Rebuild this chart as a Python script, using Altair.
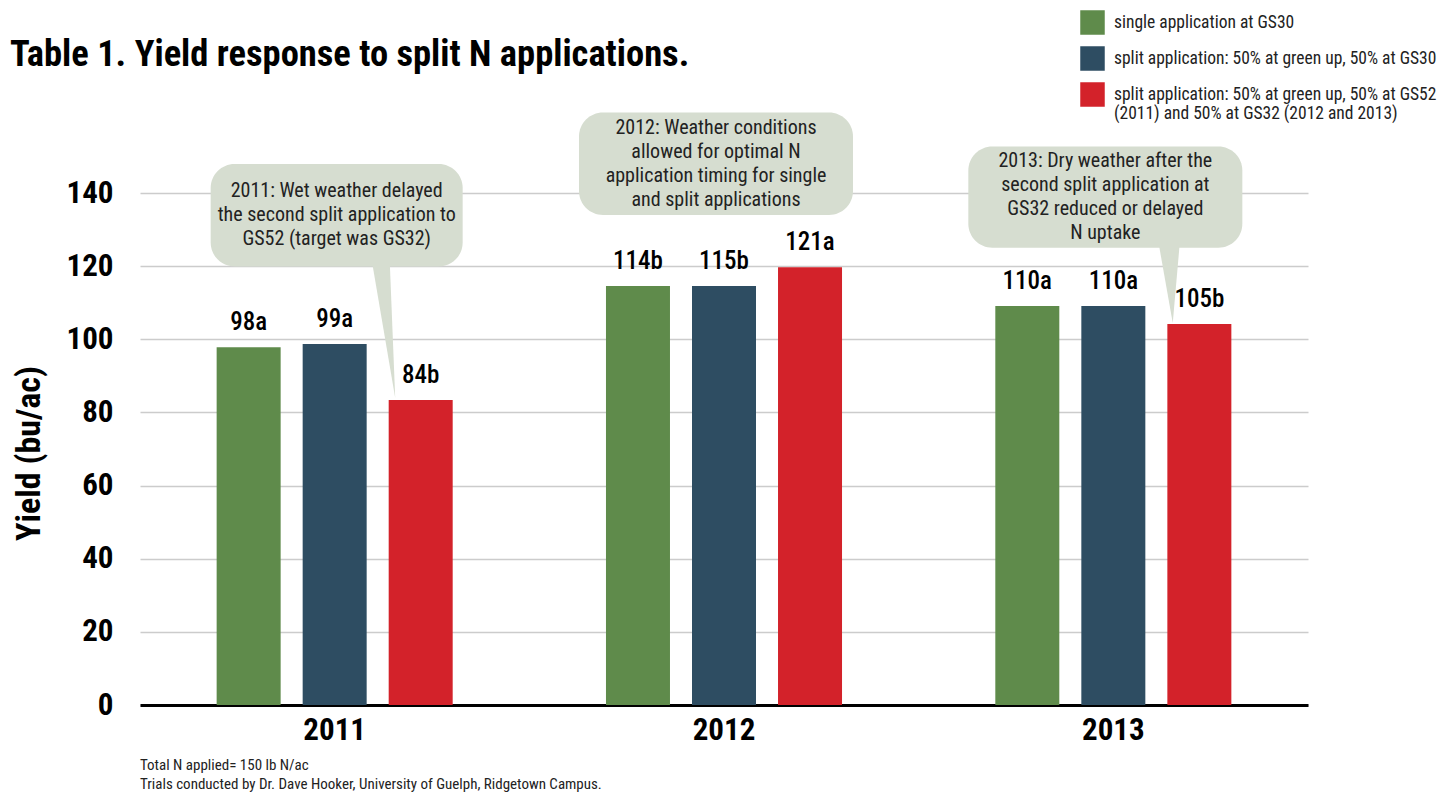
import altair as alt
import pandas as pd

FONT = "Roboto Condensed, Liberation Sans Narrow, DejaVu Sans Condensed, Arial Narrow, sans-serif"

# ---- data ----
years = ["2011", "2012", "2013"]
treatments = [
    "single application at GS30",
    "split application: 50% at green up, 50% at GS30",
    "split application: 50% at green up, 50% at GS52 (2011) and 50% at GS32 (2012 and 2013)",
]
single_gs30 = [97.8, 114.6, 109.1]
split_gs30 = [98.7, 114.6, 109.1]
split_late = [83.4, 119.7, 104.2]
labels_single = ["98a", "114b", "110a"]
labels_split = ["99a", "115b", "110a"]
labels_late = ["84b", "121a", "105b"]
colors = ["#5f8b4b", "#2e4d62", "#d3222a"]
y_ticks = [0, 20, 40, 60, 80, 100, 120, 140]

note_years = ["2011", "2012", "2013"]
note_lines = [
    ["2011: Wet weather delayed", "the second split application to", "GS52 (target was GS32)"],
    ["2012: Weather conditions", "allowed for optimal N", "application timing for single",
     "and split applications"],
    ["2013: Dry weather after the", "second split application at", "GS32 reduced or delayed",
     "N uptake"],
]
note_top = [147.9, 162.0, 152.7]
note_bottom = [119.9, 134.0, 125.0]
note_width = [252, 274, 274]
note_shift = [2, -8, -8]

pointer_years = ["2011", "2013"]
pointer_mid = [102.8, 115.8]
pointer_paths = [
    "M-0.70,-0.986L-0.443,-0.986L-0.364,0.986Z",
    "M-0.59,-0.593L-0.276,-0.593L-0.38,0.593Z",
]

title_text = "Table 1. Yield response to split N applications."
foot1 = "Total N applied= 150 lb N/ac"
foot2 = "Trials conducted by Dr. Dave Hooker, University of Guelph, Ridgetown Campus."

BUBBLE = "#d6ddd0"
LINE_H = 24

rows = []
for vals, labs, t in [(single_gs30, labels_single, treatments[0]),
                      (split_gs30, labels_split, treatments[1]),
                      (split_late, labels_late, treatments[2])]:
    for yr, v, lb in zip(years, vals, labs):
        rows.append({"year": yr, "treatment": t, "yield": v, "label": lb})
df = pd.DataFrame(rows)

xscale = alt.Scale(domain=years, paddingInner=0, paddingOuter=0)
oscale = alt.Scale(domain=treatments, paddingInner=0.256, paddingOuter=0.891)
yscale = alt.Scale(domain=[0, 140], nice=False)

x_axis = alt.Axis(domain=True, domainColor="black", domainWidth=3,
                  ticks=False, grid=False, labelAngle=0,
                  labelFont=FONT, labelFontSize=31, labelFontWeight="bold",
                  labelColor="black", labelPadding=10)
y_axis = alt.Axis(values=y_ticks, domain=False, ticks=False, grid=True,
                  gridColor="#cccccc", gridWidth=1.5,
                  labelFont=FONT, labelFontSize=31, labelFontWeight="bold",
                  labelColor="black", labelPadding=27,
                  titleFont=FONT, titleFontSize=34,
                  titleFontWeight="bold", titleColor="black",
                  titleAngle=270, titleX=-111, titleY=260,
                  titleAlign="center", titleBaseline="middle")


def X():
    return alt.X("year:N", scale=xscale, axis=x_axis, title=None)


def Y():
    return alt.Y("yield:Q", scale=yscale, axis=y_axis, title="Yield (bu/ac)")


def XO():
    return alt.XOffset("treatment:N", scale=oscale)


legend_expr = ("datum.label == '" + treatments[2] + "' ? "
               "['split application: 50% at green up, 50% at GS52', "
               "'(2011) and 50% at GS32 (2012 and 2013)'] : datum.label")

bars = alt.Chart(df).mark_bar().encode(
    x=X(), xOffset=XO(), y=Y(),
    color=alt.Color("treatment:N", scale=alt.Scale(domain=treatments, range=colors),
                    legend=alt.Legend(title=None, orient="none", legendX=940, legendY=-183,
                                      symbolType="square", symbolSize=600,
                                      symbolStrokeWidth=0, symbolOpacity=1,
                                      labelFont=FONT, labelFontSize=17.5, labelColor="#222222",
                                      labelLimit=600, labelOffset=9, rowPadding=11,
                                      padding=0, labelExpr=legend_expr)),
)

labels = alt.Chart(df).mark_text(dy=-17, baseline="alphabetic", font=FONT,
                                 fontSize=25, fontWeight=500, color="black").encode(
    x=X(), xOffset=XO(), y=Y(), text="label:N",
)

layers = [bars]

pdf = pd.DataFrame({"year": pointer_years, "treatment": [treatments[2]] * 2,
                    "yield": pointer_mid})
for i in range(len(pointer_years)):
    layers.append(
        alt.Chart(pdf.iloc[[i]]).mark_point(shape=pointer_paths[i], size=19600, filled=True,
                                           opacity=1, color=BUBBLE, strokeWidth=0).encode(
            x=X(), xOffset=XO(), y=Y(),
        )
    )

for i in range(len(note_years)):
    n = len(note_lines[i])
    sub = pd.DataFrame({"year": [note_years[i]], "yield": [note_top[i]],
                        "yield_end": [note_bottom[i]],
                        "text": ["\n".join(note_lines[i])]})
    sub_mid = sub.assign(**{"yield": (note_top[i] + note_bottom[i]) / 2})
    layers.append(
        alt.Chart(sub).mark_bar(width=note_width[i], cornerRadius=24, color=BUBBLE,
                                xOffset=note_shift[i]).encode(
            x=X(), y=Y(), y2=alt.Y2("yield_end:Q"),
        )
    )
    layers.append(
        alt.Chart(sub_mid).mark_text(font=FONT, fontSize=20, lineHeight=LINE_H, lineBreak="\n",
                                     color="#222222", align="center", baseline="middle",
                                     dx=note_shift[i], dy=-(n - 1) * LINE_H / 2).encode(
            x=X(), y=Y(), text="text:N",
        )
    )

layers.append(labels)

layers.append(
    alt.Chart(pd.DataFrame({"t": [title_text]})).mark_text(
        align="left", baseline="alphabetic", font=FONT, fontSize=36.5,
        fontWeight="bold", color="black").encode(
        x=alt.value(-130), y=alt.value(-127), text="t:N")
)
layers.append(
    alt.Chart(pd.DataFrame({"t": [foot1]})).mark_text(
        align="left", baseline="alphabetic", font=FONT, fontSize=15,
        color="#222222").encode(x=alt.value(0), y=alt.value(577), text="t:N")
)
layers.append(
    alt.Chart(pd.DataFrame({"t": [foot2]})).mark_text(
        align="left", baseline="alphabetic", font=FONT, fontSize=15,
        color="#222222").encode(x=alt.value(0), y=alt.value(596), text="t:N")
)

chart = alt.layer(*layers).properties(
    width=1168, height=512, autosize="none",
    padding={"left": 140, "top": 193, "right": 139, "bottom": 87},
    background="white",
).configure_view(stroke=None)

chart.save("out.html", embed_options={"renderer": "svg", "actions": False})
